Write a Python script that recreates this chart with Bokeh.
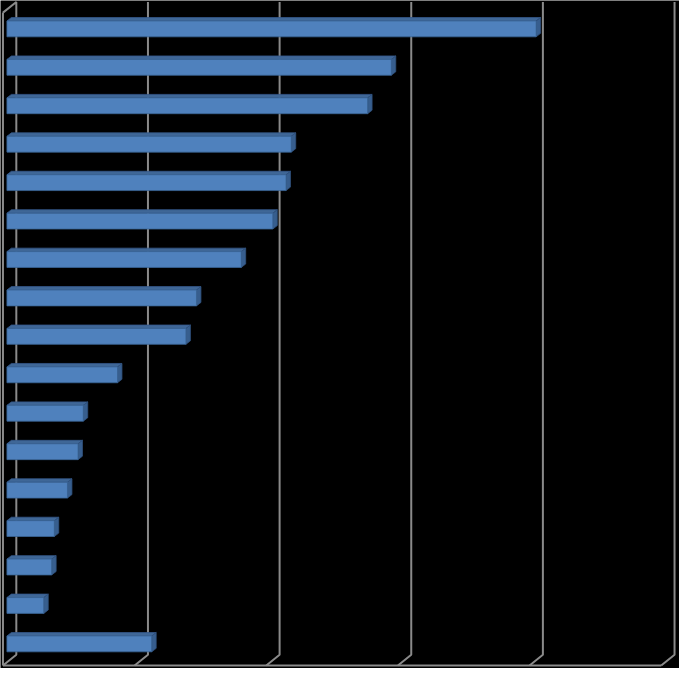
import numpy as np
from bokeh.plotting import figure
from bokeh.models import Range1d, ColumnDataSource
from bokeh.embed import file_html
from bokeh.resources import INLINE

# ---- data (top to bottom); the chart shows no labels ----
categories = [f"item {k}" for k in range(1, 18)]
values = [20.1, 14.6, 13.7, 10.8, 10.6, 10.1, 8.9, 7.2, 6.8, 4.2,
          2.9, 2.7, 2.3, 1.8, 1.7, 1.4, 5.5]
grid_values = [0, 5, 10, 15, 20, 25]

# ---- geometry (style) ----
PX_X = 26.64   # pixels per value unit
PX_Y = 38.83   # pixels per category step
bar_h = 16 / PX_Y
bar_dx = 4.5 / PX_X
bar_dy = 3.5 / PX_Y
wall_dx = 13.5 / PX_X
wall_dy = 10.75 / PX_Y
back_zero = 9.5 / PX_X          # back-plane offset of zero
back_top = (7.5 - 34.7) / PX_Y
back_floor = (667 - 34.7) / PX_Y

n = len(values)
idx = np.arange(n)

p = figure(width=679, height=668, output_backend="svg", toolbar_location=None,
           x_range=Range1d(-0.244, 25.545), y_range=Range1d(16.64, -0.739),
           min_border=0, background_fill_color="#000000",
           border_fill_color="#000000", outline_line_color=None)
p.axis.visible = False
p.grid.visible = False

grid_col = "#8a8a8a"
# gridlines on the back wall plus slant to the front of the floor
gxs, gys = [], []
for g in grid_values[1:]:
    xb = back_zero + g
    gxs.append([xb, xb, xb - wall_dx])
    gys.append([back_top, back_floor, back_floor + wall_dy])
# left wall outline
xb0 = back_zero
gxs.append([xb0 - wall_dx, xb0, xb0, xb0 - wall_dx])
gys.append([back_top + wall_dy, back_top, back_floor, back_floor + wall_dy])
gxs.append([xb0 - wall_dx, xb0 - wall_dx])
gys.append([back_top + wall_dy, back_floor + wall_dy])
# front floor edge
gxs.append([xb0 - wall_dx, back_zero + grid_values[-1] - wall_dx])
gys.append([back_floor + wall_dy, back_floor + wall_dy])
p.multi_line(xs=gxs, ys=gys, line_color=grid_col, line_width=2)

# bars: front face, top face, side face
vals = np.array(values)
tops = idx - bar_h / 2
bots = idx + bar_h / 2
top_xs = [[0, v, v + bar_dx, bar_dx] for v in vals]
top_ys = [[t, t, t - bar_dy, t - bar_dy] for t in tops]
side_xs = [[v, v + bar_dx, v + bar_dx, v] for v in vals]
side_ys = [[t, t - bar_dy, b - bar_dy, b] for t, b in zip(tops, bots)]

p.patches(xs=top_xs, ys=top_ys, fill_color="#3F6797", line_color="#35588A", line_width=0.8)
p.patches(xs=side_xs, ys=side_ys, fill_color="#375E8E", line_color="#30517C", line_width=0.8)
src = ColumnDataSource(dict(y=idx, right=vals, cat=categories))
p.hbar(y="y", left=0, right="right", height=bar_h, source=src,
       fill_color="#4F81BD", line_color="#3A6596", line_width=0.8)

html = file_html(p, INLINE)
html = html.replace("<body>", '<body style="background-color:#000000;">', 1)
open("out.html", "w").write(html)
